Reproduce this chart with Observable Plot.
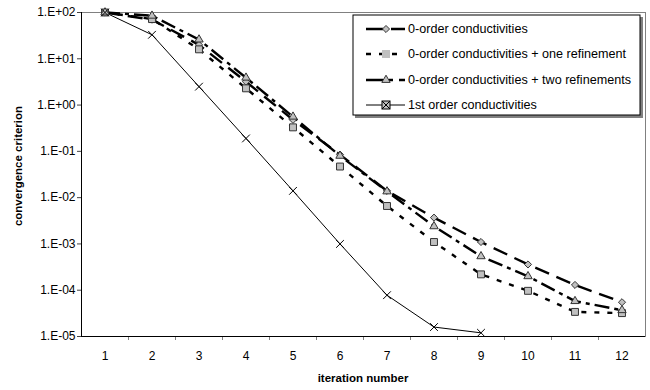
<!DOCTYPE html>
<html><head><meta charset="utf-8">
<script src="https://cdn.jsdelivr.net/npm/d3@7"></script>
<script src="https://cdn.jsdelivr.net/npm/@observablehq/plot@0.6"></script>
<style>
body{margin:0;background:#fff}
svg{font-family:Arial,"Liberation Sans",sans-serif}
</style>
</head><body><div id="chart"></div>
<script>
const iterations = [1,2,3,4,5,6,7,8,9,10,11,12];
const zeroOrder      = [100, 70, 20, 3.2, 0.48, 0.085, 0.014, 3.7e-3, 1.1e-3, 3.6e-4, 1.3e-4, 5.5e-5];
const oneRefinement  = [100, 72, 16, 2.3, 0.33, 0.047, 6.6e-3, 1.1e-3, 2.2e-4, 9.7e-5, 3.4e-5, 3.2e-5];
const twoRefinements = [100, 85, 26, 3.9, 0.56, 0.08, 0.0136, 2.4e-3, 5.4e-4, 2.0e-4, 5.8e-5, 3.7e-5];
const firstOrder     = [100, 33, 2.5, 0.19, 0.014, 1.0e-3, 7.8e-5, 1.6e-5, 1.2e-5];
const seriesNames = [
  "0-order conductivities",
  "0-order conductivities + one refinement",
  "0-order conductivities + two refinements",
  "1st order conductivities"
];
const yTicks = [1e2, 1e1, 1e0, 1e-1, 1e-2, 1e-3, 1e-4, 1e-5];
const yTickLabels = ["1.E+02","1.E+01","1.E+00","1.E-01","1.E-02","1.E-03","1.E-04","1.E-05"];
const xTitle = "iteration number";
const yTitle = "convergence criterion";

const seriesValues = [zeroOrder, oneRefinement, twoRefinements, firstOrder];
const styles = [
  {dash: "15,8", width: 2.4, symbol: "diamond2", r: 3.2, fill: "#c0c0c0"},
  {dash: "5,8", width: 2.4, symbol: "square", r: 3.9, fill: "#c0c0c0"},
  {dash: "15,5,4,5", width: 2.4, symbol: "triangle", r: 3.1, fill: "#c0c0c0"},
  {dash: null, width: 1, symbol: "times", r: 3.6, fill: "none"}
];
const rows = seriesValues.map((vals, i) => vals.map((v, j) => ({it: iterations[j], v, s: seriesNames[i]})));
const boundaries = iterations.slice(1).map(d => d - 0.5);

const marks = [
  Plot.frame({stroke: "#808080"}),
  Plot.axisY({ticks: yTicks, tickFormat: d => yTickLabels[yTicks.indexOf(d)], tickSize: 4, tickPadding: 2, fontSize: 12, label: null, stroke: "#444", color: "#000"}),
  Plot.axisX({ticks: boundaries, tickFormat: () => "", tickSize: 4, label: null, stroke: "#808080"}),
  Plot.axisX({ticks: iterations, tickSize: 0, tickPadding: 15, fontSize: 12, label: null}),
  Plot.ruleX([0.5], {stroke: "#000"}),
  Plot.ruleY([1e-5], {stroke: "#000"})
];
rows.forEach((data, i) => {
  const st = styles[i];
  marks.push(Plot.line(data, {x: "it", y: "v", stroke: "#000", strokeWidth: st.width, strokeDasharray: st.dash, strokeLinecap: "butt"}));
});
rows.forEach((data, i) => {
  const st = styles[i];
  if (st.symbol === "times") {
    marks.push(Plot.dot(data, {x: "it", y: "v", symbol: "times", r: st.r, stroke: "#000", strokeWidth: 1}));
  } else {
    marks.push(Plot.dot(data, {x: "it", y: "v", symbol: st.symbol, r: st.r, fill: st.fill, stroke: "#333", strokeWidth: 1}));
  }
});

const svg = Plot.plot({
  width: 650, height: 390,
  marginLeft: 81, marginRight: 5, marginTop: 12, marginBottom: 54,
  x: {type: "linear", domain: [0.5, 12.5]},
  y: {type: "log", domain: [1e-5, 1e2]},
  style: {fontFamily: "Arial, 'Liberation Sans', sans-serif", fontSize: "12px", color: "#000"},
  marks
});
document.getElementById("chart").appendChild(svg);

const g = d3.select(svg);
g.append("text").attr("x", 363).attr("y", 382).attr("text-anchor", "middle")
  .attr("font-size", 11.5).attr("font-weight", "bold").text(xTitle);
g.append("text").attr("transform", "translate(22,166) rotate(-90)").attr("text-anchor", "middle")
  .attr("font-size", 11.5).attr("font-weight", "bold").text(yTitle);

// legend
const lg = g.append("g").attr("text-anchor", "start");
lg.append("rect").attr("x", 355).attr("y", 17).attr("width", 288).attr("height", 101).attr("fill", "#808080");
lg.append("rect").attr("x", 353).attr("y", 15).attr("width", 287).attr("height", 100).attr("fill", "#fff").attr("stroke", "#000");
const rowY = [29, 54, 80, 105];
const legendDash = ["17,8", "5,8", "17,6,4,6", null];
seriesNames.forEach((name, i) => {
  const st = styles[i];
  const y = rowY[i];
  lg.append("line").attr("x1", 366).attr("x2", 405).attr("y1", y).attr("y2", y)
    .attr("stroke", "#000").attr("stroke-width", st.width)
    .attr("stroke-dasharray", legendDash[i]);
  if (i === 1) {
    lg.append("rect").attr("x", 382).attr("y", y - 4).attr("width", 8).attr("height", 8).attr("fill", "#c0c0c0");
  } else if (i === 0) {
    lg.append("path").attr("transform", `translate(386,${y})`)
      .attr("d", d3.symbol(d3.symbolDiamond2, 32)()).attr("fill", "#c0c0c0").attr("stroke", "#333");
  } else if (i === 2) {
    lg.append("path").attr("transform", `translate(386,${y})`)
      .attr("d", d3.symbol(d3.symbolTriangle, 30)()).attr("fill", "#c0c0c0").attr("stroke", "#333");
  } else {
    lg.append("rect").attr("x", 382).attr("y", y - 4).attr("width", 8).attr("height", 8)
      .attr("fill", "#c0c0c0").attr("stroke", "#000");
    lg.append("path").attr("transform", `translate(386,${y})`)
      .attr("d", "M-4,-4L4,4M4,-4L-4,4").attr("stroke", "#000").attr("fill", "none");
  }
  lg.append("text").attr("x", 408).attr("y", y).attr("dy", "0.35em").attr("font-size", 12.6)
    .attr("text-anchor", "start").attr("fill", "#000").text(name);
});
</script>
</body></html>
